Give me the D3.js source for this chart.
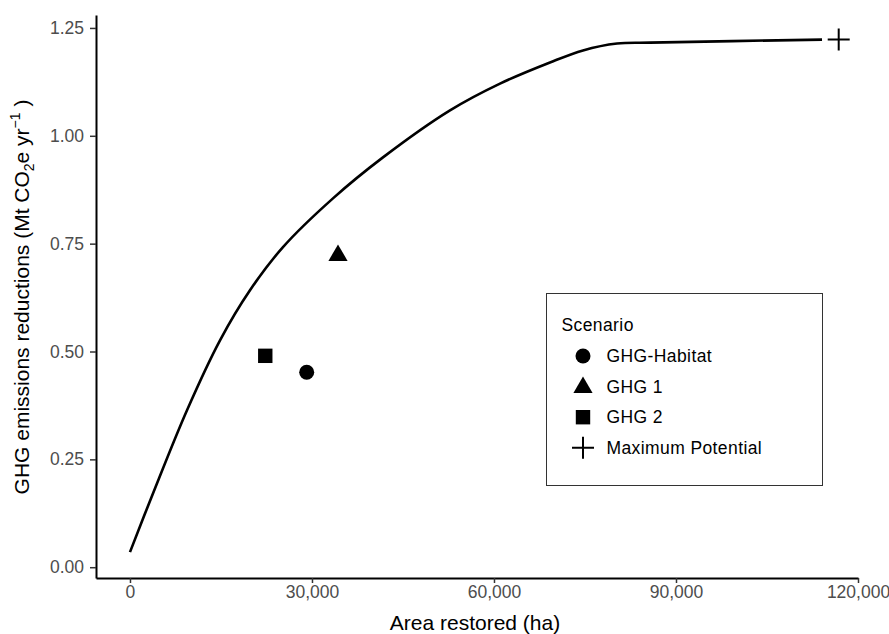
<!DOCTYPE html>
<html><head><meta charset="utf-8">
<script src="https://cdn.jsdelivr.net/npm/d3@7"></script>
<style>body{margin:0;background:#fff}svg{display:block}text{font-family:"Liberation Sans",Arial,sans-serif}</style>
</head><body>
<script>
// Data
const curveX = [0, 3790, 9400, 14840, 19780, 25220, 33460, 41700, 52750, 60990, 69230, 74670, 80280, 85720, 114070];
const curveY = [0.035, 0.171, 0.364, 0.526, 0.642, 0.742, 0.855, 0.950, 1.059, 1.121, 1.170, 1.198, 1.214, 1.216, 1.223];
const scenarios = ["GHG-Habitat", "GHG 1", "GHG 2", "Maximum Potential"];
const scenarioX = [29130, 34290, 22300, 116820];
const scenarioY = [0.452, 0.725, 0.490, 1.223];
const shapes = ["circle", "triangle", "square", "cross"];
const xTicks = [0, 30000, 60000, 90000, 120000];
const yTicks = [0, 0.25, 0.5, 0.75, 1.0, 1.25];

const W = 889, H = 634;
const svg = d3.select("body").append("svg").attr("width", W).attr("height", H);
const x = d3.scaleLinear().domain([-5600, 120000]).range([96, 858]);
const y = d3.scaleLinear().domain([-0.025, 1.28]).range([578, 15]);

// axes
const xAxis = svg.append("g").attr("transform", "translate(0,578)")
  .call(d3.axisBottom(x).tickValues(xTicks).tickFormat(d3.format(",")).tickSize(5).tickSizeOuter(0).tickPadding(3));
const yAxis = svg.append("g").attr("transform", "translate(96,0)")
  .call(d3.axisLeft(y).tickValues(yTicks).tickFormat(d3.format(".2f")).tickSize(6).tickSizeOuter(0).tickPadding(6));
[xAxis, yAxis].forEach(g => {
  g.select(".domain").attr("stroke", "#000").attr("stroke-width", 2);
  g.selectAll(".tick line").attr("stroke", "#333").attr("stroke-width", 1.5);
  g.selectAll(".tick text").attr("fill", "#4d4d4d").attr("font-size", 17.5);
});

// axis titles
svg.append("text").attr("x", 475).attr("y", 630).attr("text-anchor", "middle")
  .attr("font-size", 21).attr("fill", "#000").text("Area restored (ha)");
const yt = svg.append("text").attr("transform", "translate(29,297) rotate(-90)")
  .attr("text-anchor", "middle").attr("font-size", 21).attr("fill", "#000");
yt.append("tspan").text("GHG emissions reductions (Mt CO");
yt.append("tspan").attr("font-size", 14).attr("dy", 5).text("2");
yt.append("tspan").attr("dy", -5).text("e  yr");
yt.append("tspan").attr("font-size", 14).attr("dy", -9).text("−1");
yt.append("tspan").attr("dy", 9).text(" )");

// curve
const pts = curveX.map((d, i) => [d, curveY[i]]);
svg.append("path").datum(pts)
  .attr("d", d3.line().x(d => x(d[0])).y(d => y(d[1])).curve(d3.curveCatmullRom.alpha(0.5)))
  .attr("fill", "none").attr("stroke", "#000").attr("stroke-width", 2.6);

function drawShape(g, shape, cx, cy) {
  if (shape === "circle") g.append("circle").attr("cx", cx).attr("cy", cy).attr("r", 7.5).attr("fill", "#000");
  else if (shape === "square") g.append("rect").attr("x", cx - 7.2).attr("y", cy - 7.2).attr("width", 14.4).attr("height", 14.4).attr("fill", "#000");
  else if (shape === "triangle") g.append("path").attr("d", `M${cx},${cy - 10}L${cx + 9.6},${cy + 6.5}L${cx - 9.6},${cy + 6.5}Z`).attr("fill", "#000");
  else if (shape === "cross") g.append("path").attr("d", `M${cx - 11},${cy}H${cx + 11}M${cx},${cy - 11}V${cy + 11}`).attr("stroke", "#000").attr("stroke-width", 2).attr("fill", "none");
}

const pg = svg.append("g");
scenarios.forEach((s, i) => drawShape(pg, shapes[i], x(scenarioX[i]), y(scenarioY[i])));

// legend
const lg = svg.append("g");
lg.append("rect").attr("x", 546.5).attr("y", 293.5).attr("width", 276).attr("height", 192)
  .attr("fill", "#fff").attr("stroke", "#333").attr("stroke-width", 1);
lg.append("text").attr("x", 561.5).attr("y", 331).attr("font-size", 17.5).attr("letter-spacing", 0.4)
  .attr("fill", "#000").text("Scenario");
scenarios.forEach((s, i) => {
  const cy = 356 + i * 30.6;
  drawShape(lg, shapes[i], 583, cy);
  lg.append("text").attr("x", 606.5).attr("y", cy + 6).attr("font-size", 17.5).attr("letter-spacing", 0.4)
    .attr("fill", "#000").text(s);
});
</script>
</body></html>
